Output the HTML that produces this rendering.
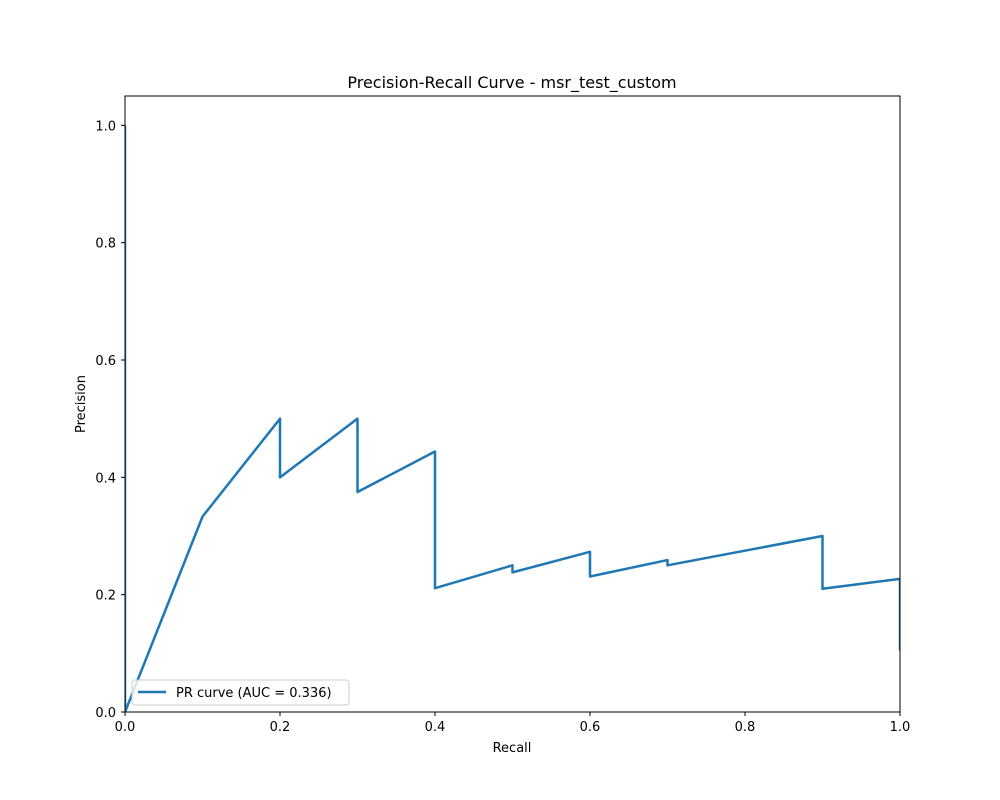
<!DOCTYPE html>
<html><head><meta charset="utf-8"><style>
html,body{margin:0;padding:0;background:#fff}
svg{display:block;font-family:"DejaVu Sans","Liberation Sans",sans-serif}
</style></head><body>
<svg id="chart" width="1000" height="800">
<defs><clipPath id="plotclip"><rect x="125" y="96" width="775" height="616"/></clipPath></defs>
<rect width="1000" height="800" fill="#fff"/>
<text x="512" y="88" text-anchor="middle" font-size="16">Precision-Recall Curve - msr_test_custom</text>
<g id="ticks"></g>
<g id="series" clip-path="url(#plotclip)"></g>
<rect x="125" y="96" width="775" height="616" fill="none" stroke="#000" stroke-width="1"/>
<text x="512" y="752" text-anchor="middle" font-size="13">Recall</text>
<text x="85" y="404" text-anchor="middle" font-size="13" transform="rotate(-90 85 404)">Precision</text>
<g>
<rect x="132" y="680" width="217" height="25" rx="3" fill="#fff" fill-opacity="0.8" stroke="#ccc"/>
<line x1="138" y1="692" x2="166" y2="692" stroke="#1f77b4" stroke-width="2.5"/>
<text x="176" y="697" font-size="13">PR curve (AUC = 0.336)</text>
</g>
</svg>
<script>
const recall = [0,0,0.1,0.2,0.2,0.3,0.3,0.4,0.4,0.5,0.5,0.6,0.6,0.7,0.7,0.9,0.9,1.0,1.0];
const precision = [1.0,0,0.333,0.5,0.4,0.5,0.375,0.444,0.211,0.25,0.238,0.273,0.231,0.259,0.25,0.3,0.21,0.227,0.105];
const xTicks = [0,0.2,0.4,0.6,0.8,1.0];
const yTicks = [0,0.2,0.4,0.6,0.8,1.0];
const xTickLabels = ["0.0","0.2","0.4","0.6","0.8","1.0"];
const yTickLabels = ["0.0","0.2","0.4","0.6","0.8","1.0"];
const NS="http://www.w3.org/2000/svg";
const X=v=>125+v*775, Y=v=>712-v*(616/1.05);
const tg=document.getElementById('ticks');
xTicks.forEach((t,i)=>{
 const l=document.createElementNS(NS,'line');
 l.setAttribute('x1',X(t));l.setAttribute('x2',X(t));l.setAttribute('y1',712);l.setAttribute('y2',716);l.setAttribute('stroke','#000');
 
 
 tg.appendChild(l);
 const tx=document.createElementNS(NS,'text');
 tx.setAttribute('x',X(t));tx.setAttribute('y',731);tx.setAttribute('text-anchor','middle');tx.setAttribute('font-size','13');
 tx.textContent=xTickLabels[i];
 
 
 tg.appendChild(tx);
});
yTicks.forEach((t,i)=>{
 const l=document.createElementNS(NS,'line');
 l.setAttribute('x1',121);l.setAttribute('x2',125);l.setAttribute('y1',Y(t));l.setAttribute('y2',Y(t));l.setAttribute('stroke','#000');
 
 
 tg.appendChild(l);
 const tx=document.createElementNS(NS,'text');
 tx.setAttribute('x',116);tx.setAttribute('y',Y(t)+5);tx.setAttribute('text-anchor','end');tx.setAttribute('font-size','13');
 tx.textContent=yTickLabels[i];
 
 
 tg.appendChild(tx);
});
const p=document.createElementNS(NS,'polyline');
p.setAttribute('points',recall.map((r,i)=>X(r)+','+Y(precision[i])).join(' '));
p.setAttribute('fill','none');p.setAttribute('stroke','#1f77b4');p.setAttribute('stroke-width','2.5');p.setAttribute('stroke-linejoin','round');


document.getElementById('series').appendChild(p);
</script>
</body></html>
